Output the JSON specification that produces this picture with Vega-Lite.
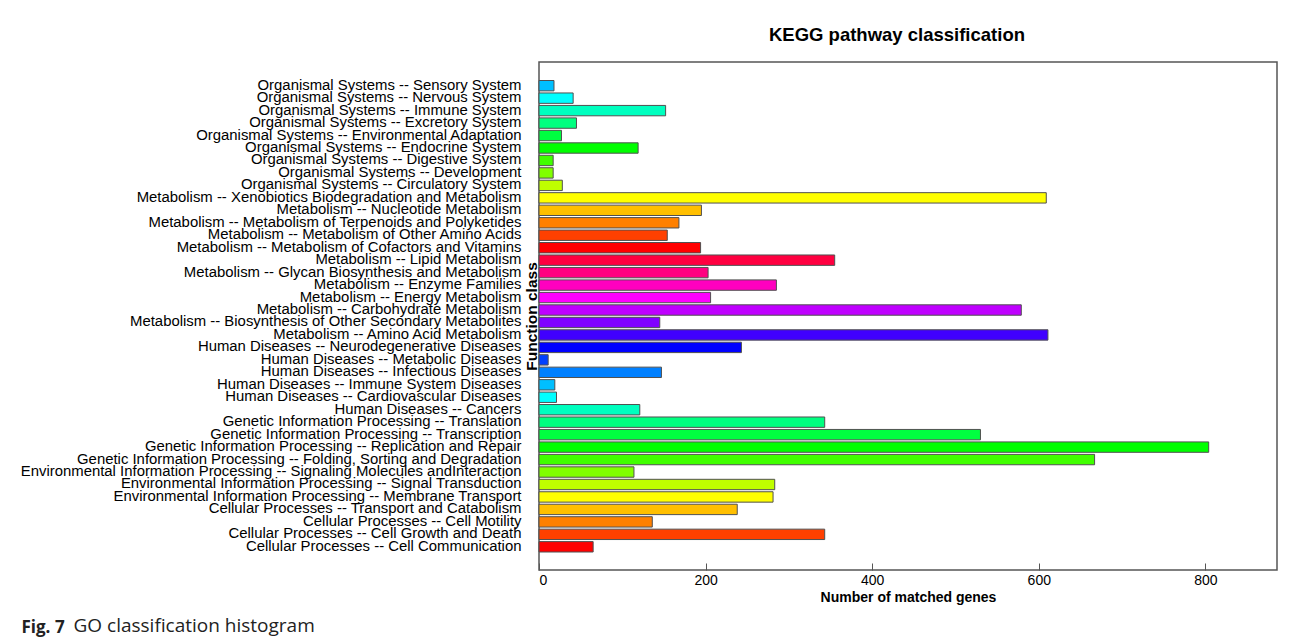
{
  "$schema": "https://vega.github.io/schema/vega-lite/v6.json",
  "background": "white",
  "padding": {"left": 19, "top": 24, "right": 10, "bottom": 5},
  "config": {
    "font": "Liberation Sans",
    "view": {"stroke": "#555555", "strokeWidth": 1.5},
    "concat": {"spacing": 0}
  },
  "title": {
    "text": "GO classification histogram",
    "orient": "bottom",
    "anchor": "start",
    "frame": "bounds",
    "font": "Open Sans",
    "fontSize": 19,
    "fontWeight": "normal",
    "color": "#222222",
    "offset": 0,
    "dx": 54,
    "dy": -19
  },
  "vconcat": [
    {
      "title": {
        "text": "Fig. 7",
        "orient": "bottom",
        "anchor": "start",
        "frame": "bounds",
        "font": "Open Sans",
        "fontSize": 17,
        "fontWeight": "bold",
        "color": "#222222",
        "offset": 15,
        "dx": 2
      },
      "vconcat": [
        {
          "width": 738,
          "height": 508,
          "title": {
            "text": "KEGG pathway classification",
            "anchor": "middle",
            "frame": "group",
            "fontSize": 18.5,
            "fontWeight": "bold",
            "color": "black",
            "offset": 18,
            "dx": -11
          },
          "data": {
            "values": [
              {"pathway": "Organismal Systems -- Sensory System", "genes": 18},
              {"pathway": "Organismal Systems -- Nervous System", "genes": 41},
              {"pathway": "Organismal Systems -- Immune System", "genes": 152},
              {"pathway": "Organismal Systems -- Excretory System", "genes": 45},
              {"pathway": "Organismal Systems -- Environmental Adaptation", "genes": 27},
              {"pathway": "Organismal Systems -- Endocrine System", "genes": 119},
              {"pathway": "Organismal Systems -- Digestive System", "genes": 17},
              {"pathway": "Organismal Systems -- Development", "genes": 17},
              {"pathway": "Organismal Systems -- Circulatory System", "genes": 28},
              {"pathway": "Metabolism -- Xenobiotics Biodegradation and Metabolism", "genes": 609},
              {"pathway": "Metabolism -- Nucleotide Metabolism", "genes": 195},
              {"pathway": "Metabolism -- Metabolism of Terpenoids and Polyketides", "genes": 168},
              {"pathway": "Metabolism -- Metabolism of Other Amino Acids", "genes": 154},
              {"pathway": "Metabolism -- Metabolism of Cofactors and Vitamins", "genes": 194},
              {"pathway": "Metabolism -- Lipid Metabolism", "genes": 355},
              {"pathway": "Metabolism -- Glycan Biosynthesis and Metabolism", "genes": 203},
              {"pathway": "Metabolism -- Enzyme Families", "genes": 285},
              {"pathway": "Metabolism -- Energy Metabolism", "genes": 206},
              {"pathway": "Metabolism -- Carbohydrate Metabolism", "genes": 579},
              {"pathway": "Metabolism -- Biosynthesis of Other Secondary Metabolites", "genes": 145},
              {"pathway": "Metabolism -- Amino Acid Metabolism", "genes": 611},
              {"pathway": "Human Diseases -- Neurodegenerative Diseases", "genes": 243},
              {"pathway": "Human Diseases -- Metabolic Diseases", "genes": 11},
              {"pathway": "Human Diseases -- Infectious Diseases", "genes": 147},
              {"pathway": "Human Diseases -- Immune System Diseases", "genes": 19},
              {"pathway": "Human Diseases -- Cardiovascular Diseases", "genes": 21},
              {"pathway": "Human Diseases -- Cancers", "genes": 121},
              {"pathway": "Genetic Information Processing -- Translation", "genes": 343},
              {"pathway": "Genetic Information Processing -- Transcription", "genes": 530},
              {"pathway": "Genetic Information Processing -- Replication and Repair", "genes": 804},
              {"pathway": "Genetic Information Processing -- Folding, Sorting and Degradation", "genes": 667},
              {"pathway": "Environmental Information Processing -- Signaling Molecules andInteraction", "genes": 114},
              {"pathway": "Environmental Information Processing -- Signal Transduction", "genes": 283},
              {"pathway": "Environmental Information Processing -- Membrane Transport", "genes": 281},
              {"pathway": "Cellular Processes -- Transport and Catabolism", "genes": 238},
              {"pathway": "Cellular Processes -- Cell Motility", "genes": 136},
              {"pathway": "Cellular Processes -- Cell Growth and Death", "genes": 343},
              {"pathway": "Cellular Processes -- Cell Communication", "genes": 65}
            ]
          },
          "mark": {"type": "bar", "stroke": "#505050", "strokeWidth": 1},
          "encoding": {
            "y": {
              "field": "pathway",
              "type": "nominal",
              "sort": null,
              "scale": {"paddingInner": 0.1667, "paddingOuter": 0, "range": [18.5, 490]},
              "axis": {
                "ticks": false,
                "tickSize": 0,
                "domain": false,
                "labelPadding": 18,
                "labelLimit": 0,
                "labelFontSize": 14.9,
                "labelColor": "black",
                "title": "Function class",
                "titleFontSize": 15.5,
                "titleFontWeight": "bold",
                "titleColor": "black",
                "titleAngle": 270,
                "titleAlign": "center",
                "titleBaseline": "middle",
                "titleX": -8,
                "titleY": 254
              }
            },
            "x": {
              "field": "genes",
              "type": "quantitative",
              "scale": {"domain": [0, 886], "nice": false},
              "axis": {
                "values": [0, 200, 400, 600, 800],
                "grid": false,
                "domain": false,
                "tickSize": -7,
                "tickColor": "#555555",
                "tickWidth": 1,
                "labelPadding": 10,
                "labelFontSize": 14,
                "labelColor": "black",
                "title": "Number of matched genes",
                "titleFontSize": 14,
                "titleFontWeight": "bold",
                "titleColor": "black",
                "titlePadding": 3
              }
            },
            "color": {
              "field": "pathway",
              "type": "nominal",
              "legend": null,
              "scale": {
                "domain": [
                  "Organismal Systems -- Sensory System",
                  "Organismal Systems -- Nervous System",
                  "Organismal Systems -- Immune System",
                  "Organismal Systems -- Excretory System",
                  "Organismal Systems -- Environmental Adaptation",
                  "Organismal Systems -- Endocrine System",
                  "Organismal Systems -- Digestive System",
                  "Organismal Systems -- Development",
                  "Organismal Systems -- Circulatory System",
                  "Metabolism -- Xenobiotics Biodegradation and Metabolism",
                  "Metabolism -- Nucleotide Metabolism",
                  "Metabolism -- Metabolism of Terpenoids and Polyketides",
                  "Metabolism -- Metabolism of Other Amino Acids",
                  "Metabolism -- Metabolism of Cofactors and Vitamins",
                  "Metabolism -- Lipid Metabolism",
                  "Metabolism -- Glycan Biosynthesis and Metabolism",
                  "Metabolism -- Enzyme Families",
                  "Metabolism -- Energy Metabolism",
                  "Metabolism -- Carbohydrate Metabolism",
                  "Metabolism -- Biosynthesis of Other Secondary Metabolites",
                  "Metabolism -- Amino Acid Metabolism",
                  "Human Diseases -- Neurodegenerative Diseases",
                  "Human Diseases -- Metabolic Diseases",
                  "Human Diseases -- Infectious Diseases",
                  "Human Diseases -- Immune System Diseases",
                  "Human Diseases -- Cardiovascular Diseases",
                  "Human Diseases -- Cancers",
                  "Genetic Information Processing -- Translation",
                  "Genetic Information Processing -- Transcription",
                  "Genetic Information Processing -- Replication and Repair",
                  "Genetic Information Processing -- Folding, Sorting and Degradation",
                  "Environmental Information Processing -- Signaling Molecules andInteraction",
                  "Environmental Information Processing -- Signal Transduction",
                  "Environmental Information Processing -- Membrane Transport",
                  "Cellular Processes -- Transport and Catabolism",
                  "Cellular Processes -- Cell Motility",
                  "Cellular Processes -- Cell Growth and Death",
                  "Cellular Processes -- Cell Communication"
                ],
                "range": [
                  "#00BFFF", "#00FFFF", "#00FFBF", "#00FF80", "#00FF40", "#00FF00", "#40FF00", "#80FF00", "#BFFF00",
                  "#FFFF00", "#FFBF00", "#FF8000", "#FF4000", "#FF0000", "#FF0040", "#FF0080", "#FF00BF", "#FF00FF",
                  "#BF00FF", "#8000FF", "#4000FF", "#0000FF", "#0040FF", "#0080FF", "#00BFFF", "#00FFFF", "#00FFBF",
                  "#00FF80", "#00FF40", "#00FF00", "#40FF00", "#80FF00", "#BFFF00", "#FFFF00", "#FFBF00", "#FF8000",
                  "#FF4000", "#FF0000"
                ]
              }
            }
          }
        }
      ]
    }
  ]
}
